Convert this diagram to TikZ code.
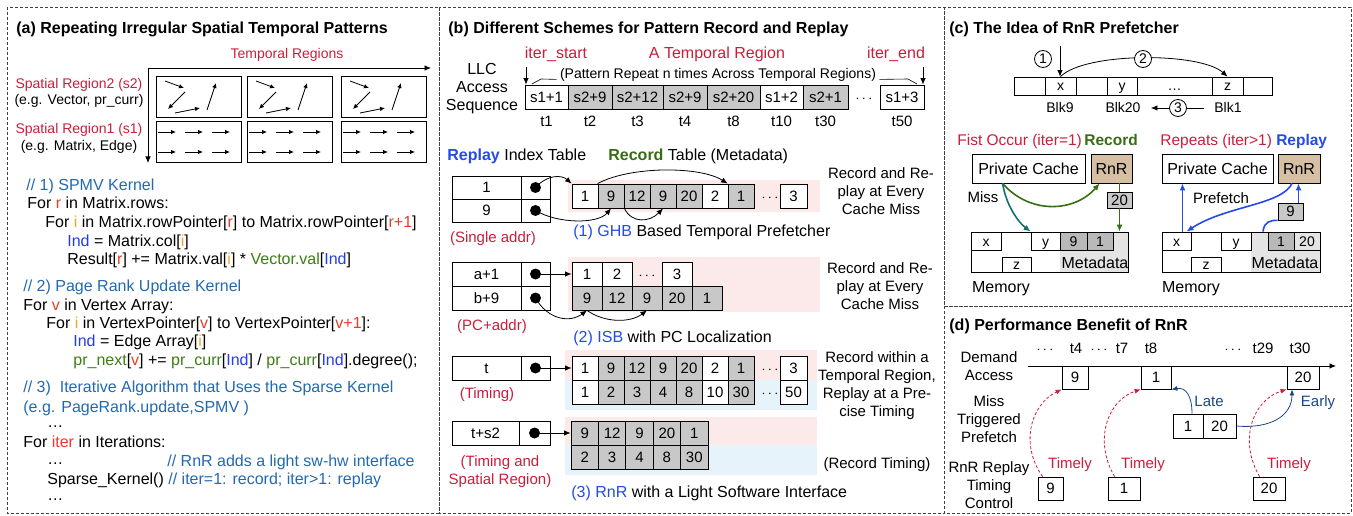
\documentclass[tikz,border=0pt]{standalone}
\usepackage{fontspec}
\setmainfont{Liberation Sans}
\usetikzlibrary{arrows.meta, positioning}

\definecolor{labred}{RGB}{200,30,60}
\definecolor{cmtblue}{RGB}{35,105,175}
\definecolor{varred}{RGB}{235,60,35}
\definecolor{varor}{RGB}{240,165,40}
\definecolor{indblue}{RGB}{35,60,235}
\definecolor{vargreen}{RGB}{60,125,20}
\definecolor{repblue}{RGB}{35,75,230}
\definecolor{recgreen}{RGB}{55,110,20}
\definecolor{missteal}{RGB}{20,110,115}
\definecolor{rnrtan}{RGB}{214,192,164}
\definecolor{pinkbg}{RGB}{252,234,234}
\definecolor{bluebg}{RGB}{230,243,251}
\definecolor{gcol}{RGB}{200,200,200}
\definecolor{dgcol}{RGB}{185,185,185}
\definecolor{lgcol}{RGB}{228,228,228}
\definecolor{lateblue}{RGB}{25,70,140}

\newcommand{\vRed}[1]{\textcolor{varred}{#1}}
\newcommand{\vOr}[1]{\textcolor{varor}{#1}}
\newcommand{\vInd}[1]{\textcolor{indblue}{#1}}
\newcommand{\vGrn}[1]{\textcolor{vargreen}{#1}}

\begin{document}
\begin{tikzpicture}[
    x=1pt, y=-1pt, line width=0.8pt,
    panel/.style={draw=black!75, dash pattern=on 3pt off 2pt, line width=0.7pt},
    ttl/.style={anchor=west, inner sep=0pt, font=\bfseries\fontsize{16}{19}\selectfont,
      text height=11.5pt, text depth=0pt},
    t16/.style={inner sep=0pt, font=\fontsize{16}{19}\selectfont, text height=11.5pt, text depth=0pt},
    t15/.style={inner sep=0pt, font=\fontsize{15}{18}\selectfont, text height=10.8pt, text depth=0pt},
    t14/.style={inner sep=0pt, font=\fontsize{14}{17}\selectfont, text height=10pt, text depth=0pt},
    code/.style={t16, anchor=west},
    multi/.style={inner sep=0pt, align=center, font=\fontsize{15}{18}\selectfont},
    cell/.style={draw, t15, minimum height=24pt, minimum width=26pt},
    mcell/.style={draw, t14, fill=white, minimum height=18pt},
    dot/.style={circle, fill, inner sep=0pt, minimum size=11pt},
    circ/.style={draw, circle, fill=white, inner sep=0pt, minimum size=17pt, t14},
    arr/.style={-{Latex[length=6.5pt, width=5.5pt]}},
    sarr/.style={-{Latex[length=5pt, width=4.5pt]}},
    carr/.style={line width=1.6pt, -{Latex[length=7pt, width=6pt]}},
    redarr/.style={draw=labred, dash pattern=on 3pt off 2pt, -{Latex[length=6pt, width=5pt]}},
    latearr/.style={draw=lateblue, -{Latex[length=6pt, width=5pt]}}
]
\useasboundingbox (0,0) rectangle (1353,516);

% ---------- (a) ----------
\draw[panel] (7,7) rectangle (439,513);
\node[ttl] (ta) at (16,28) {(a) Repeating Irregular Spatial Temporal Patterns};
\node[t14, text=labred] (treg) at (287,54) {Temporal Regions};
\coordinate (orig) at (148,68);
\coordinate (tx) at (431,68);
\coordinate (sy) at (148,163);
\draw[arr] (orig) -- (tx);
\draw[arr] (orig) -- (sy);
\foreach \i/\x in {1/156, 2/247, 3/341} {
  \node[draw, minimum width=85pt, minimum height=41pt, inner sep=0pt] (sa\i) at (\x+42.5,96.5) {};
  \node[draw, minimum width=85pt, minimum height=41pt, inner sep=0pt] (sb\i) at (\x+42.5,141.5) {};
  % irregular accesses (s2)
  \draw[sarr] (\x+9,81) -- (\x+28,88);
  \draw[sarr] (\x+29,92) -- (\x+12,109);
  \draw[sarr] (\x+19,113) -- (\x+44,108);
  \draw[sarr] (\x+51,110) -- (\x+60,83);
  % streaming accesses (s1)
  \foreach \y in {132,152}
    \foreach \d in {2,29,56}
      \draw[sarr] (\x+\d,\y) -- (\x+\d+18,\y);
}
\node[t14, text=labred] (s2l) at (79,84) {Spatial Region2 (s2)};
\node[t14] (s2e) at (79,100) {(e.g. Vector, pr\_curr)};
\node[t14, text=labred] (s1l) at (79,129) {Spatial Region1 (s1)};
\node[t14] (s1e) at (79,146) {(e.g. Matrix, Edge)};

\node[code, text=cmtblue] (c1) at (26,185) {// 1) SPMV Kernel};
\node[code] (c2) at (27,203) {For \vRed{r} in Matrix.rows:};
\node[code] (c3) at (45,222) {For \vOr{i} in Matrix.rowPointer[\vRed{r}] to Matrix.rowPointer[\vRed{r+1}]};
\node[code] (c4) at (67,241) {\vInd{Ind} = Matrix.col[\vOr{i}]};
\node[code] (c5) at (67,259) {Result[\vRed{r}] += Matrix.val[\vOr{i}] * \vGrn{Vector.val}[\vInd{Ind}]};
\node[code, text=cmtblue] (c6) at (23,286) {// 2) Page Rank Update Kernel};
\node[code] (c7) at (23,305) {For \vRed{v} in Vertex Array:};
\node[code] (c8) at (46,323) {For \vOr{i} in VertexPointer[\vRed{v}] to VertexPointer[\vRed{v+1}]:};
\node[code] (c9) at (73,341) {\vInd{Ind} = Edge Array[\vOr{i}]};
\node[code] (c10) at (73,360) {\vGrn{pr\_next}[\vRed{v}] += \vGrn{pr\_curr}[\vInd{Ind}] / \vGrn{pr\_curr}[\vInd{Ind}].degree();};
\node[code, text=cmtblue] (c11) at (23,387) {// 3)\ \ Iterative Algorithm that Uses the Sparse Kernel};
\node[code, text=cmtblue] (c12) at (23,407) {(e.g. PageRank.update,SPMV )};
\node[code] (c13) at (47,422) {\dots};
\node[code] (c14) at (23,442) {For \vRed{iter} in Iterations:};
\node[code] (c15) at (47,459) {\dots};
\node[code, text=cmtblue] (c16) at (167,461) {// RnR adds a light sw-hw interface};
\node[code] (c17) at (47,479) {Sparse\_Kernel()};
\node[code, text=cmtblue] (c18) at (168,479) {// iter=1: record; iter>1: replay};
\node[code] (c19) at (47,495) {\dots};

% ---------- (b) ----------
\draw[panel] (439,7) rectangle (944,513);
\node[ttl] (tb) at (448,28) {(b) Different Schemes for Pattern Record and Replay};
\node[multi, font=\fontsize{16}{18}\selectfont] (llc) at (482,88.7) {LLC\\Access\\Sequence};
\node[t16, text=labred] (istart) at (556,53) {iter\_start};
\node[t16, text=labred] (atr) at (717,53) {A Temporal Region};
\node[t16, text=labred] (iend) at (896,53) {iter\_end};
\node[t14] (rep) at (718,74) {(Pattern Repeat n times Across Temporal Regions)};

\foreach \n/\a/\b/\v/\f in {1/525/568/s1+1/white, 2/568/612/s2+9/gcol, 3/612/663/s2+12/gcol,
    4/663/707/s2+9/gcol, 5/707/760/s2+20/gcol, 6/760/803/s1+2/white, 7/803/848/s2+1/gcol,
    8/880/924/s1+3/white}
  \node[cell, fill=\f, minimum width={\b-\a}] (seq\n) at ({(\a+\b)/2},97) {\v};
\node[t15] (sdots) at (864,97) {$\cdots$};
\foreach \n/\t in {1/t1, 2/t2, 3/t3, 4/t4, 5/t8, 6/t10, 7/t30, 8/t50}
  \node[t15, below=5.5pt of seq\n] (tl\n) {\t};

\coordinate (sa) at (526,67);
\coordinate (se) at (923,67);
\draw[arr] (sa) -- (sa |- seq1.north);
\draw[arr] (se) -- (se |- seq8.north);
\draw[line width=0.6pt] ([xshift=-3pt]rep.south west) -- (541,79) -- (532,84);
\draw[line width=0.6pt] ([xshift=3pt]rep.south east) -- (908,79) -- (917,84);

\node[t16, anchor=west] (rit) at (447,155) {\textcolor{repblue}{\bfseries Replay} Index Table};
\node[t16, anchor=west] (rct) at (608,155) {\textcolor{recgreen}{\bfseries Record} Table (Metadata)};

% (1) GHB
\fill[pinkbg] (568,180) rectangle (820,212);
\node[cell, minimum width=69pt, minimum height=23pt] (k1a) at (486.5,187.5) {1};
\node[cell, minimum width=29pt, minimum height=23pt] (p1a) at (535.5,187.5) {};
\node[dot] (d1a) at (p1a) {};
\node[cell, minimum width=69pt, minimum height=23pt] (k1b) at (486.5,210.5) {9};
\node[cell, minimum width=29pt, minimum height=23pt] (p1b) at (535.5,210.5) {};
\node[dot] (d1b) at (p1b) {};
\foreach \n/\v/\f in {1/1/white, 2/9/gcol, 3/12/gcol, 4/9/gcol, 5/20/gcol, 6/2/white, 7/1/gcol}
  \node[cell, fill=\f] (g\n) at (559+26*\n,196) {\v};
\node[t15] (gdots) at (770,196) {$\cdots$};
\node[cell, fill=white, minimum width=27pt] (g9) at (793.5,196) {3};
\draw[arr] (d1a.center) .. controls (548,174) and (562,175) .. (g1.north west);
\draw[arr] (d1b.center) .. controls (558,224) and (598,224) .. (g2.south);
\draw[arr] (g2.south east) .. controls (632,224) and (650,222) .. (g4.south);
\draw[arr] (g2.north west) .. controls (630,166) and (700,166) .. (g7.north west);
\node[t15, text=labred] (sgl) at (493,237) {(Single addr)};
\node[t16, anchor=west] (cap1) at (573,231) {\textcolor{repblue}{(1) GHB} Based Temporal Prefetcher};
\node[multi] (ds1) at (881,191) {Record and Re-\\play at Every\\Cache Miss};

% (2) ISB
\fill[pinkbg] (568,257) rectangle (820,312);
\node[cell, minimum width=69pt] (k2a) at (486.5,274) {a+1};
\node[cell, minimum width=29pt] (p2a) at (535.5,274) {};
\node[dot] (d2a) at (p2a) {};
\node[cell, minimum width=69pt] (k2b) at (486.5,298) {b+9};
\node[cell, minimum width=29pt] (p2b) at (535.5,298) {};
\node[dot] (d2b) at (p2b) {};
\foreach \n/\v in {1/1, 2/2, 4/3}
  \node[cell, fill=white, minimum width=30pt] (ia\n) at (557+30*\n,274) {\v};
\node[t15] (idots) at (647,274) {$\cdots$};
\foreach \n/\v in {1/9, 2/12, 3/9, 4/20, 5/1}
  \node[cell, fill=gcol, minimum width=30pt] (ib\n) at (557+30*\n,298) {\v};
\draw[arr] (d2a.center) -- (ia1);
\draw[arr] (d2b.center) .. controls (548,320) and (570,323) .. (ib1.south);
\draw[arr] (ib1.south) .. controls (605,323) and (630,323) .. (ib3.south);
\node[t15, text=labred] (pca) at (492,325) {(PC+addr)};
\node[t16, anchor=west] (cap2) at (573,337) {\textcolor{repblue}{(2) ISB} with PC Localization};
\node[multi] (ds2) at (880,286) {Record and Re-\\play at Every\\Cache Miss};

% timing
\fill[pinkbg] (565,350) rectangle (817,380);
\fill[bluebg] (565,380) rectangle (817,410);
\node[cell, minimum width=69pt] (k3) at (486.5,368) {t};
\node[cell, minimum width=29pt] (p3) at (535.5,368) {};
\node[dot] (d3) at (p3) {};
\foreach \n/\v/\f in {1/1/white, 2/9/gcol, 3/12/gcol, 4/9/gcol, 5/20/gcol, 6/2/white, 7/1/gcol}
  \node[cell, fill=\f] (ta\n) at (559+26*\n,368) {\v};
\foreach \n/\v/\f in {1/1/white, 2/2/gcol, 3/3/gcol, 4/4/gcol, 5/8/gcol, 6/10/white, 7/30/gcol}
  \node[cell, fill=\f] (tb\n) at (559+26*\n,392) {\v};
\node[t15] (tdots1) at (770,368) {$\cdots$};
\node[t15] (tdots2) at (770,392) {$\cdots$};
\node[cell, fill=white, minimum width=27pt] (ta9) at (793.5,368) {3};
\node[cell, fill=white, minimum width=27pt] (tb9) at (793.5,392) {50};
\draw[arr] (d3.center) -- (ta1);
\node[t15, text=labred] (tml) at (487,393) {(Timing)};
\node[multi] (ds3) at (877,385.5) {Record within a\\Temporal Region,\\Replay at a Pre-\\cise Timing};

% (3) RnR
\fill[pinkbg] (565,417) rectangle (817,445);
\fill[bluebg] (565,445) rectangle (817,475);
\node[cell, minimum width=67pt] (k4) at (485.5,433) {t+s2};
\node[cell, minimum width=31pt] (p4) at (534.5,433) {};
\node[dot] (d4) at (p4) {};
\foreach \n/\v in {1/9, 2/12, 3/9, 4/20, 5/1}
  \node[cell, fill=gcol, minimum width=27.4pt] (ra\n) at (557.3+27.4*\n,433) {\v};
\foreach \n/\v in {1/2, 2/3, 3/4, 4/8, 5/30}
  \node[cell, fill=gcol, minimum width=27.4pt] (rb\n) at (557.3+27.4*\n,457) {\v};
\draw[arr] (d4.center) -- (ra1);
\node[multi, text=labred] (tsr) at (500,472) {(Timing and\\Spatial Region)};
\node[t15] (rtm) at (877,463) {(Record Timing)};
\node[t16, anchor=west] (cap3) at (571,492) {\textcolor{repblue}{(3) RnR} with a Light Software Interface};

% ---------- (c) ----------
\draw[panel] (944,7) rectangle (1351,306);
\node[ttl] (tc) at (949,28) {(c) The Idea of RnR Prefetcher};
\foreach \n/\a/\b/\v in {1/1014/1045/{}, 2/1045/1076/x, 3/1076/1107/{}, 4/1107/1137/y,
    5/1137/1212/\dots, 6/1212/1243/z, 7/1243/1272/{}}
  \node[mcell, minimum width={\b-\a}] (m\n) at ({(\a+\b)/2},86) {\v};
\node[t14] (blk9) at (1060,108) {Blk9};
\node[t14] (blk20) at (1123,108) {Blk20};
\node[t14] (blk1) at (1228,108) {Blk1};
\draw[arr] ([xshift=-10pt]blk1.west) -- ([xshift=10pt]blk20.east);
\node[circ] (c3) at (1178,108) {3};
\node[circ] (c1) at (1043,59) {1};
\coordinate (in1) at (1060,46);
\draw[arr] (in1) -- (in1 |- m2.north);
\draw[arr] (m2.north) .. controls (1085,52) and (1200,52) .. (m6.north);
\node[circ] (c2) at (1143,59) {2};

\node[t15, anchor=west, font=\fontsize{15.5}{18}\selectfont] (fo) at (957,140)
  {\textcolor{labred}{Fist Occur (iter=1)}\,\textcolor{recgreen}{\bfseries Record}};
\node[t15, anchor=west, font=\fontsize{15.5}{18}\selectfont] (rpt) at (1160,140)
  {\textcolor{labred}{Repeats (iter>1)} \textcolor{repblue}{\bfseries Replay}};

% first occurrence: record
\node[draw, t16, minimum width=113pt, minimum height=29pt] (pc1) at (1028.5,168.5) {Private Cache};
\node[draw, t16, fill=rnrtan, minimum width=41pt, minimum height=29pt] (rn1) at (1111.5,168.5) {RnR};
\node[draw, t15, fill=gcol, minimum width=25pt, minimum height=16pt] (m20) at (1119.5,200) {20};
\fill[lgcol] (1060,232) rectangle (1128,272);
\node[draw, minimum width=157pt, minimum height=40pt] (mem1) at (1049.5,252) {};
\node[mcell, minimum width=30pt] (mx1) at (986,241) {x};
\node[mcell, minimum width=29pt] (my1) at (1045.5,241) {y};
\node[mcell, fill=dgcol, minimum width=27pt] (mn9) at (1073.5,241) {9};
\node[mcell, fill=dgcol, minimum width=26pt] (mn1) at (1100,241) {1};
\node[mcell, minimum width=29pt, minimum height=15pt] (mz1) at (1016.5,264.5) {z};
\node[t16] (md1) at (1095,263) {Metadata};
\node[t16] (ml1) at (1001,287) {Memory};
\node[t15] (miss) at (983,197) {Miss};
\draw[carr, draw=recgreen, -{Latex[length=7pt, width=6pt, fill=recgreen]}]
  ([xshift=31pt]pc1.south west) .. controls (1030,215) and (1075,212) .. ([xshift=9pt]rn1.south west);
\draw[carr, draw=missteal, -{Latex[length=7pt, width=6pt, fill=missteal]}]
  ([xshift=31pt]pc1.south west) .. controls (1006,205) and (1018,222) .. (my1.north west);
\draw[line width=1.6pt, draw=recgreen] (rn1.south -| m20) -- (m20.north);
\draw[carr, draw=recgreen, -{Latex[length=7pt, width=6pt, fill=recgreen]}] (m20.south) -- (m20.south |- mem1.north);

% repeats: replay
\node[draw, t16, minimum width=111pt, minimum height=29pt] (pc2) at (1217.5,168.5) {Private Cache};
\node[draw, t16, fill=rnrtan, minimum width=42pt, minimum height=29pt] (rn2) at (1299,168.5) {RnR};
\node[draw, t15, fill=gcol, minimum width=25pt, minimum height=17pt] (m9) at (1290.5,211.5) {9};
\fill[lgcol] (1251,232) rectangle (1320,272);
\node[draw, minimum width=158pt, minimum height=40pt] (mem2) at (1241,252) {};
\node[mcell, minimum width=29pt] (mx2) at (1176.5,241) {x};
\node[mcell, minimum width=30pt] (my2) at (1236,241) {y};
\node[mcell, fill=dgcol, minimum width=26pt] (mn1b) at (1281,241) {1};
\node[mcell, fill=lgcol, minimum width=26pt] (mn20) at (1307,241) {20};
\node[mcell, minimum width=30pt, minimum height=15pt] (mz2) at (1206,264.5) {z};
\node[t16] (md2) at (1285,263) {Metadata};
\node[t16] (ml2) at (1191,287) {Memory};
\node[t15] (pf) at (1221,198) {Prefetch};
\draw[carr, draw=repblue, -{Latex[length=7pt, width=6pt, fill=repblue]}]
  ([xshift=6pt]mx2.north) -- ([xshift=6pt]mx2.north |- pc2.south);
\draw[carr, draw=repblue, -{Latex[length=7pt, width=6pt, fill=repblue]}]
  ([xshift=-7pt]rn2.south) .. controls (1282,205) and (1225,206) .. ([xshift=10pt]mx2.north);
\draw[line width=1.6pt, draw=repblue] ([xshift=-18pt]mn1b.north) .. controls (1264,222) and (1270,220) .. (m9.south west);
\draw[carr, draw=repblue, -{Latex[length=7pt, width=6pt, fill=repblue]}]
  ([xshift=8pt]m9.north) -- ([xshift=8pt]m9.north |- rn2.south);

% ---------- (d) ----------
\draw[panel] (944,306) rectangle (1351,513);
\node[ttl] (td) at (949,325) {(d) Performance Benefit of RnR};
\node[multi] (dem) at (989,366) {Demand\\Access};
\node[multi] (mtp) at (989,419) {Miss\\Triggered\\Prefetch};
\node[multi] (rtc) at (989,485) {RnR Replay\\Timing\\Control};
\coordinate (ax0) at (1028,366);
\coordinate (ax1) at (1336,366);
\draw[arr] (ax0) -- (ax1);
\foreach \x/\t [count=\k] in {1045/$\cdots$, 1076/t4, 1099/$\cdots$, 1122/t7, 1151/t8,
    1233/$\cdots$, 1263/t29, 1300/t30}
  \node[t15] (tk\k) at (\x,348) {\t};
\node[cell, fill=white, minimum width=26pt, minimum height=23pt] (dt9) at (1075,377.5) {9};
\node[cell, fill=white, minimum width=30pt, minimum height=23pt] (dt1) at (1156,377.5) {1};
\node[cell, fill=white, minimum width=32pt, minimum height=23pt] (dt20) at (1303,377.5) {20};
\node[cell, minimum width=30pt] (dp1) at (1188,426) {1};
\node[cell, minimum width=33pt] (dp20) at (1219.5,426) {20};
\node[cell, minimum width=25pt, minimum height=23pt] (db9) at (1050.5,488.5) {9};
\node[cell, minimum width=32pt, minimum height=23pt] (db1) at (1124,488.5) {1};
\node[cell, minimum width=32pt, minimum height=23pt] (db20) at (1269,488.5) {20};
\node[t15, text=labred] (tm1) at (1070,463) {Timely};
\node[t15, text=labred] (tm2) at (1143,463) {Timely};
\node[t15, text=labred] (tm3) at (1289,463) {Timely};
\node[t15, text=lateblue] (late) at (1209,401) {Late};
\node[t15, text=lateblue] (early) at (1318,401) {Early};
\draw[redarr] ([xshift=5pt]db9.north west) .. controls (1020,445) and (1030,405) .. (dt9.south west);
\draw[redarr] ([xshift=7pt]db1.north west) .. controls (1093,440) and (1108,400) .. (dt1.south west);
\draw[redarr] ([xshift=7pt]db20.north west) .. controls (1238,440) and (1253,400) .. (dt20.south west);
\draw[latearr] ([xshift=4pt]dp1.north) .. controls (1192,396) and (1186,387) .. (dt1.south east);
\draw[latearr] (dp20.east) .. controls (1272,429) and (1292,415) .. ([xshift=-11pt]dt20.south);
\end{tikzpicture}
\end{document}
